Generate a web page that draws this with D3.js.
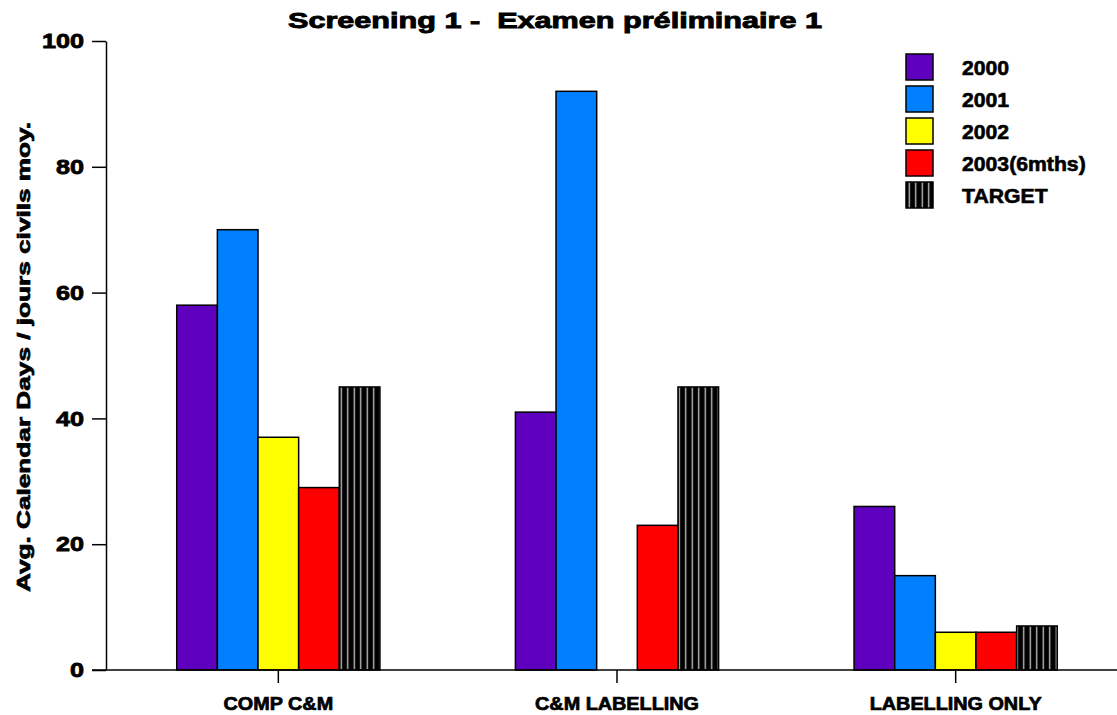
<!DOCTYPE html>
<html>
<head>
<meta charset="utf-8">
<script src="https://cdn.jsdelivr.net/npm/d3@7"></script>
<style>
  html, body { margin: 0; padding: 0; background: #fff; }
  svg { display: block; }
  text { font-family: "Liberation Sans", Arial, sans-serif; font-weight: bold; fill: #000; white-space: pre; }
</style>
</head>
<body>
<svg id="chart" width="1117" height="715"></svg>
<script>
const categories = ["COMP C&M", "C&M LABELLING", "LABELLING ONLY"];
const seriesNames = ["2000", "2001", "2002", "2003(6mths)", "TARGET"];
const v2000 = [58, 41, 26];
const v2001 = [70, 92, 15];
const v2002 = [37, 0, 6];
const v2003 = [29, 23, 6];
const vTarget = [45, 45, 7];
const yTicks = [0, 20, 40, 60, 80, 100];
const colors = ["#5f00bf", "#0080ff", "#ffff00", "#ff0000", "url(#stripes)"];

const title = "Screening 1 -  Examen préliminaire 1";
const yLabel = "Avg. Calendar Days / jours civils moy.";

const seriesValues = [v2000, v2001, v2002, v2003, vTarget];

const svg = d3.select("#chart");
const defs = svg.append("defs");
const pat = defs.append("pattern")
  .attr("id", "stripes").attr("patternUnits", "userSpaceOnUse")
  .attr("width", 6.5).attr("height", 10);
pat.append("rect").attr("width", 6.5).attr("height", 10).attr("fill", "#000");
pat.append("rect").attr("x", 2.6).attr("width", 1.3).attr("height", 10).attr("fill", "#c8c8c8");

const x0 = d3.scaleBand().domain(categories).range([109, 1125]).paddingInner(0.4).paddingOuter(0.2);
const x1 = d3.scaleBand().domain(seriesNames).range([0, x0.bandwidth()]).padding(0);
const y = d3.scaleLinear().domain([0, 100]).range([670, 41]);

// Bars
const data = [];
categories.forEach((c, i) => {
  seriesNames.forEach((s, j) => {
    data.push({ cat: c, series: s, value: seriesValues[j][i], color: colors[j] });
  });
});

svg.append("g").selectAll("rect")
  .data(data.filter(d => d.value > 0))
  .join("rect")
  .attr("x", d => x0(d.cat) + x1(d.series))
  .attr("y", d => y(d.value))
  .attr("width", x1.bandwidth())
  .attr("height", d => y(0) - y(d.value))
  .attr("fill", d => d.color)
  .attr("stroke", "#000")
  .attr("stroke-width", 1.5);

function widen(sel, factor) {
  sel.each(function () {
    const w = this.getComputedTextLength();
    d3.select(this).attr("textLength", w * factor).attr("lengthAdjust", "spacingAndGlyphs");
  });
}

// Y axis
const yAxis = d3.axisLeft(y).tickValues(yTicks).tickSize(14).tickPadding(8).tickSizeOuter(0);
const gy = svg.append("g").attr("transform", "translate(106,0)").call(yAxis);
gy.select(".domain").attr("stroke", "#000").attr("stroke-width", 1.5);
gy.selectAll(".tick line").attr("stroke", "#000").attr("stroke-width", 1.5);
gy.selectAll(".tick text")
  .style("font-size", "21px").style("font-weight", "bold")
  .style("font-family", "'Liberation Sans', Arial, sans-serif")
  .attr("fill", "#000").attr("stroke", "#000").attr("stroke-width", 0.8);
widen(gy.selectAll(".tick text"), 1.2);

// X axis
const xAxis = d3.axisBottom(x0).tickSize(13).tickPadding(14).tickSizeOuter(0);
const gx = svg.append("g").attr("transform", "translate(0,670)").call(xAxis);
gx.select(".domain").remove();
gx.selectAll(".tick line").attr("stroke", "#000").attr("stroke-width", 1.5);
gx.selectAll(".tick text")
  .style("font-size", "18px").style("font-weight", "bold")
  .style("font-family", "'Liberation Sans', Arial, sans-serif")
  .attr("fill", "#000").attr("stroke", "#000").attr("stroke-width", 0.7);
widen(gx.selectAll(".tick text"), 1.1);
svg.append("line").attr("x1", 92).attr("x2", 1117).attr("y1", y(0)).attr("y2", y(0))
  .attr("stroke", "#000").attr("stroke-width", 1.5);

// Title
svg.append("text").attr("x", 555).attr("y", 28).attr("text-anchor", "middle")
  .style("font-size", "22px").attr("stroke", "#000").attr("stroke-width", 0.9)
  .attr("textLength", 534).attr("lengthAdjust", "spacingAndGlyphs")
  .text(title);

// Y label
svg.append("text")
  .attr("transform", "translate(30,357) rotate(-90)")
  .attr("text-anchor", "middle")
  .style("font-size", "19px").attr("stroke", "#000").attr("stroke-width", 0.7)
  .attr("textLength", 470).attr("lengthAdjust", "spacingAndGlyphs")
  .text(yLabel);

// Legend
const legend = svg.append("g").attr("transform", "translate(906,54)");
const li = legend.selectAll("g").data(seriesNames).join("g")
  .attr("transform", (d, i) => `translate(0,${i * 32})`);
li.append("rect").attr("width", 27).attr("height", 26)
  .attr("fill", (d, i) => colors[i]).attr("stroke", "#000").attr("stroke-width", 1.5);
const lt = li.append("text").attr("x", 56).attr("y", 21)
  .style("font-size", "20px").attr("stroke", "#000").attr("stroke-width", 0.6)
  .text(d => d);
widen(lt, 1.06);
</script>
</body>
</html>
